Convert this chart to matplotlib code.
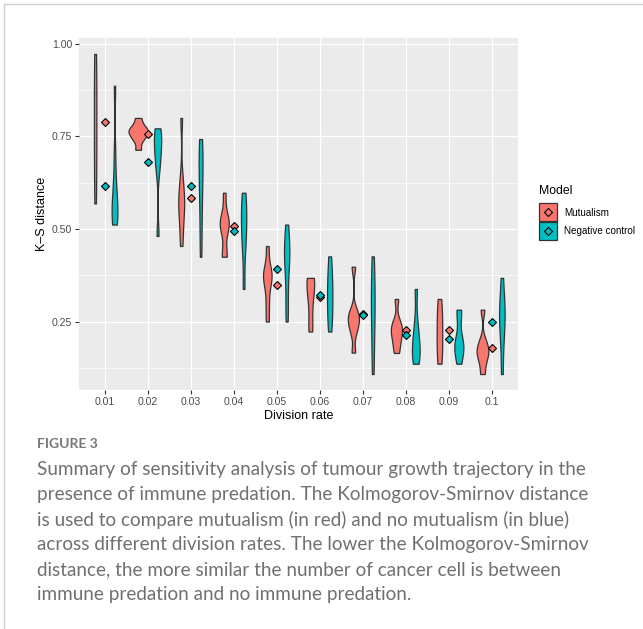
import numpy as np
import matplotlib
matplotlib.use("Agg")
import matplotlib.pyplot as plt
from matplotlib.patches import Rectangle

# Данные: K-S расстояния по скоростям деления (оценены по рисунку)
division_rates = ["0.01", "0.02", "0.03", "0.04", "0.05",
                  "0.06", "0.07", "0.08", "0.09", "0.1"]

mutualism_samples = [
    [0.569, 0.63, 0.69, 0.75, 0.81, 0.87, 0.93, 0.973],
    [0.714, 0.74, 0.75, 0.76, 0.765, 0.77, 0.78, 0.80],
    [0.454, 0.50, 0.54, 0.56, 0.58, 0.60, 0.64, 0.80],
    [0.425, 0.43, 0.50, 0.51, 0.52, 0.53, 0.598],
    [0.25, 0.30, 0.35, 0.37, 0.38, 0.39, 0.454],
    [0.223, 0.24, 0.30, 0.34, 0.355, 0.36, 0.368],
    [0.166, 0.22, 0.24, 0.255, 0.265, 0.28, 0.398],
    [0.165, 0.19, 0.21, 0.225, 0.235, 0.25, 0.311],
    [0.136, 0.16, 0.19, 0.22, 0.25, 0.28, 0.311],
    [0.108, 0.14, 0.16, 0.17, 0.18, 0.20, 0.282],
]
control_samples = [
    [0.512, 0.52, 0.54, 0.56, 0.58, 0.62, 0.70, 0.887],
    [0.481, 0.66, 0.69, 0.72, 0.74, 0.76, 0.772],
    [0.425, 0.50, 0.57, 0.62, 0.66, 0.69, 0.72, 0.743],
    [0.338, 0.44, 0.48, 0.51, 0.54, 0.57, 0.598],
    [0.25, 0.30, 0.37, 0.41, 0.43, 0.45, 0.47, 0.512],
    [0.223, 0.26, 0.29, 0.32, 0.35, 0.38, 0.426],
    [0.108, 0.17, 0.23, 0.27, 0.30, 0.34, 0.38, 0.426],
    [0.136, 0.15, 0.17, 0.19, 0.21, 0.25, 0.338],
    [0.136, 0.165, 0.18, 0.19, 0.20, 0.27, 0.282],
    [0.108, 0.18, 0.22, 0.25, 0.27, 0.29, 0.32, 0.368],
]

# Средние значения (ромбы)
mutualism_means = [0.789, 0.756, 0.584, 0.508, 0.350, 0.316, 0.270, 0.228, 0.228, 0.178]
control_means = [0.616, 0.681, 0.615, 0.494, 0.393, 0.323, 0.268, 0.214, 0.204, 0.248]

RED = "#F8766D"
CYAN = "#00BFC4"
EDGE = "#333333"


# Плотность как в ggplot2 (bw.nrd0, обрезка по диапазону данных)
def ydensity(vals, n=512):
    v = np.asarray(vals, dtype=float)
    sd = v.std(ddof=1)
    q25, q75 = np.percentile(v, [25, 75])
    lo = min(sd, (q75 - q25) / 1.34)
    bw = 0.9 * lo * len(v) ** -0.2
    grid = np.linspace(v.min(), v.max(), n)
    z = (grid[:, None] - v[None, :]) / bw
    dens = np.exp(-0.5 * z ** 2).sum(axis=1) / (len(v) * bw * np.sqrt(2 * np.pi))
    return grid, dens


dens_m = [ydensity(s) for s in mutualism_samples]
dens_c = [ydensity(s) for s in control_samples]
max_dens = max(d.max() for _, d in dens_m + dens_c)

plt.rcParams['font.family'] = ['Liberation Sans', 'DejaVu Sans']
fig = plt.figure(figsize=(6.43, 6.29), dpi=100)

W, H = 643, 629
left, right, top, bottom = 79, 518, 38, 390
ax = fig.add_axes([left / W, 1 - bottom / H, (right - left) / W, (bottom - top) / H])
ax.set_facecolor("#EBEBEB")
for sp in ax.spines.values():
    sp.set_visible(False)

x = np.arange(1, len(division_rates) + 1)
half = 0.225
for i in range(len(division_rates)):
    for (grid, dens), offset, col in ((dens_m[i], -half, RED), (dens_c[i], half, CYAN)):
        hw = half * dens / max_dens
        cx = x[i] + offset
        ax.fill_betweenx(grid, cx - hw, cx + hw, facecolor=col,
                         edgecolor=EDGE, linewidth=0.9, zorder=3)

ax.plot(x, mutualism_means, linestyle="none", marker="D", markersize=4.3,
        markerfacecolor=RED, markeredgecolor="black", markeredgewidth=0.8, zorder=4)
ax.plot(x, control_means, linestyle="none", marker="D", markersize=4.3,
        markerfacecolor=CYAN, markeredgecolor="black", markeredgewidth=0.8, zorder=5)

ax.set_xlim(0.4, 10.6)
ax.set_ylim(0.065, 1.016)
ax.set_xticks(x)
ax.set_xticklabels(division_rates)
ax.set_yticks([0.25, 0.50, 0.75, 1.00])
ax.set_yticklabels(["0.25", "0.50", "0.75", "1.00"])
ax.set_yticks([0.125, 0.375, 0.625, 0.875], minor=True)
ax.grid(True, which="major", color="white", linewidth=0.85, zorder=0)
ax.grid(True, which="minor", axis="y", color="white", linewidth=0.45, zorder=0)
ax.set_axisbelow(True)
ax.tick_params(axis="both", which="major", length=3, width=0.8, color=EDGE,
               labelsize=7.6, labelcolor="#4D4D4D", pad=2)
ax.tick_params(axis="y", which="minor", length=0)
ax.set_xlabel("Division rate", fontsize=9, labelpad=2)
ax.set_ylabel("K\u2013S distance", fontsize=9, labelpad=3)

# Оверлей в пикселях: легенда, подпись, рамка
ov = fig.add_axes([0, 0, 1, 1], zorder=-1)
ov.set_xlim(0, W)
ov.set_ylim(H, 0)
ov.axis("off")
ov.plot([3.5, 3.5], [3.5, H], color="#CFCFCF", lw=1.0)
ov.plot([3.5, W], [3.5, 3.5], color="#CFCFCF", lw=1.0)

lg = fig.add_axes([0, 0, 1, 1], zorder=2)
lg.set_xlim(0, W)
lg.set_ylim(H, 0)
lg.axis("off")
lg.text(539, 191, "Model", fontsize=8.8, va="center", ha="left")
for j, (lab, col) in enumerate((("Mutualism", RED), ("Negative control", CYAN))):
    y0 = 203 + j * 18.6
    lg.add_patch(Rectangle((539, y0), 18, 18, facecolor=col, edgecolor=EDGE, lw=0.9))
    lg.plot([548], [y0 + 9], marker="D", markersize=4.0, markerfacecolor=col,
            markeredgecolor="black", markeredgewidth=0.8)
    lg.text(564, y0 + 9.5, lab, fontsize=7.1, va="center", ha="left")

lg.text(37, 444, "FIGURE 3", fontsize=10, color="#777777", fontweight="bold",
        family=["Lato", "DejaVu Sans"], va="center", ha="left")
caption = [
    "Summary of sensitivity analysis of tumour growth trajectory in the",
    "presence of immune predation. The Kolmogorov-Smirnov distance",
    "is used to compare mutualism (in red) and no mutualism (in blue)",
    "across different division rates. The lower the Kolmogorov-Smirnov",
    "distance, the more similar the number of cancer cell is between",
    "immune predation and no immune predation.",
]
for k, line in enumerate(caption):
    lg.text(37, 470 + k * 24.9, line, fontsize=13.6, color="#707070",
            family=["Lato", "DejaVu Sans"], va="center", ha="left")

fig.savefig("out.png", dpi=100)
